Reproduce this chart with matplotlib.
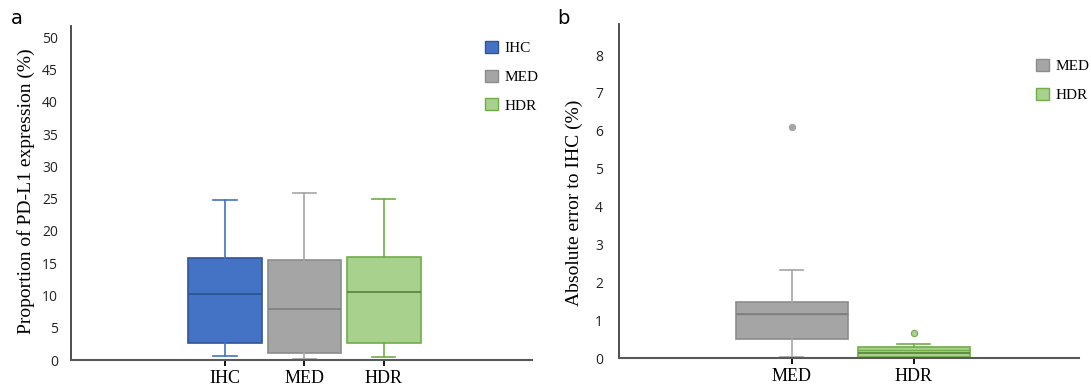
import matplotlib
matplotlib.use("Agg")
import matplotlib.pyplot as plt
from matplotlib.patches import Patch

# panel a: PD-L1 expression (%)
grupy_a = ["IHC", "MED", "HDR"]
dolny_a = [0.6, 0.15, 0.5]
q1_a = [2.7, 1.1, 2.6]
mediana_a = [10.3, 7.85, 10.6]
q3_a = [15.75, 15.5, 16.0]
gorny_a = [24.8, 25.9, 24.95]

# panel b: absolute error to IHC (%)
grupy_b = ["MED", "HDR"]
dolny_b = [0.04, 0.01]
q1_b = [0.51, 0.04]
mediana_b = [1.17, 0.13]
srednia_b = [1.17, 0.22]
q3_b = [1.48, 0.31]
gorny_b = [2.34, 0.38]
odstajace_b = [[6.11], [0.68]]

kolory = {"IHC": ("#4472C4", "#2F5597", "#4472C4"),
          "MED": ("#A5A5A5", "#8C8C8C", "#A5A5A5"),
          "HDR": ("#A9D18E", "#70AD47", "#70AD47")}
mediany = {"IHC": "#2F528F", "MED": "#7F7F7F", "HDR": "#548235"}

serif = "Liberation Serif"
sans = "Open Sans"

fig = plt.figure(figsize=(10.91, 3.92), dpi=100)
ax1 = fig.add_axes([0.0651, 0.0816, 0.4222, 0.852])
ax2 = fig.add_axes([0.5674, 0.086, 0.4216, 0.852])


def rysuj(ax, grupy, dol, q1, med, q3, gora, odst=None, sred=None, capw=0.3):
    stats = []
    for i, g in enumerate(grupy):
        s = {"label": g, "whislo": dol[i], "q1": q1[i], "med": med[i],
             "q3": q3[i], "whishi": gora[i],
             "fliers": odst[i] if odst else []}
        if sred:
            s["mean"] = sred[i]
        stats.append(s)
    poz = list(range(1, len(grupy) + 1))
    bp = ax.bxp(stats, positions=poz, widths=0.92, patch_artist=True,
                showmeans=bool(sred), meanline=True, capwidths=capw)
    for i, g in enumerate(grupy):
        fill, edge, wh = kolory[g]
        bp["boxes"][i].set(facecolor=fill, edgecolor=edge, linewidth=1.2)
        bp["medians"][i].set(color=mediany[g], linewidth=1.2)
        for w in bp["whiskers"][2 * i:2 * i + 2]:
            w.set(color=wh, linewidth=1.2)
        for c in bp["caps"][2 * i:2 * i + 2]:
            c.set(color=wh, linewidth=1.2)
        bp["caps"][2 * i].set(color=mediany[g] if g == "HDR" and sred else wh)
        bp["fliers"][i].set(marker="o", markersize=4.5, markerfacecolor=fill,
                            markeredgecolor=wh, markeredgewidth=0.8)
        if sred:
            bp["means"][i].set(color=mediany[g] if g != "HDR" else "#70AD47",
                               linewidth=1.0, linestyle="-")
    return bp


rysuj(ax1, grupy_a, dolny_a, q1_a, mediana_a, q3_a, gorny_a, capw=0.29)
rysuj(ax2, grupy_b, dolny_b, q1_b, mediana_b, q3_b, gorny_b,
      odst=odstajace_b, sred=srednia_b, capw=[0.19, 0.27])

ax1.set_xlim(-0.937, 4.858)
ax1.set_ylim(0, 51.75)
ax1.set_yticks(range(0, 51, 5))
ax2.set_xlim(-0.416, 3.355)
ax2.set_ylim(0, 8.81)
ax2.set_yticks(range(0, 9))

for ax, grupy, pad in ((ax1, grupy_a, 9.5), (ax2, grupy_b, 11.5)):
    for s in ("top", "right"):
        ax.spines[s].set_visible(False)
    ax.spines["left"].set(color="#404040", linewidth=1.3)
    ax.spines["bottom"].set(color="#595959", linewidth=1.5)
    ax.tick_params(axis="y", length=0, pad=pad, labelsize=10, labelcolor="#222222")
    ax.tick_params(axis="x", length=4, width=1.3, color="black", pad=3)
    for t in ax.get_yticklabels():
        t.set_fontfamily(sans)
    ax.set_xticks(range(1, len(grupy) + 1))
    ax.set_xticklabels(grupy, fontfamily=serif, fontsize=13)

ax1.set_ylabel("Proportion of PD-L1 expression (%)", fontfamily=serif,
               fontsize=14)
ax2.set_ylabel("Absolute error to IHC (%)", fontfamily=serif, fontsize=14)
ax1.yaxis.set_label_coords(-36 / 460.6, 0.505)
ax2.yaxis.set_label_coords(-36 / 460, 0.466)

uchwyty_a = [Patch(facecolor=kolory[g][0], edgecolor=kolory[g][1], label=g)
             for g in grupy_a]
uchwyty_b = [Patch(facecolor=kolory[g][0], edgecolor=kolory[g][1], label=g)
             for g in grupy_b]
leg_kw = dict(frameon=False, handlelength=0.85, handleheight=0.85,
              handletextpad=0.4, labelspacing=0.93, borderpad=0,
              borderaxespad=0, prop={"family": serif, "size": 11})
fig.legend(handles=uchwyty_a, loc="upper left",
           bbox_to_anchor=(485 / 1091, 1 - 41 / 392), **leg_kw)
fig.legend(handles=uchwyty_b, loc="upper left",
           bbox_to_anchor=(1036 / 1091, 1 - 59 / 392), **leg_kw)

fig.text(11 / 1091, 1 - 24 / 392, "a", fontfamily="DejaVu Sans", fontsize=14)
fig.text(557 / 1091, 1 - 24 / 392, "b", fontfamily="DejaVu Sans", fontsize=14)

fig.savefig("out.png", dpi=100)
